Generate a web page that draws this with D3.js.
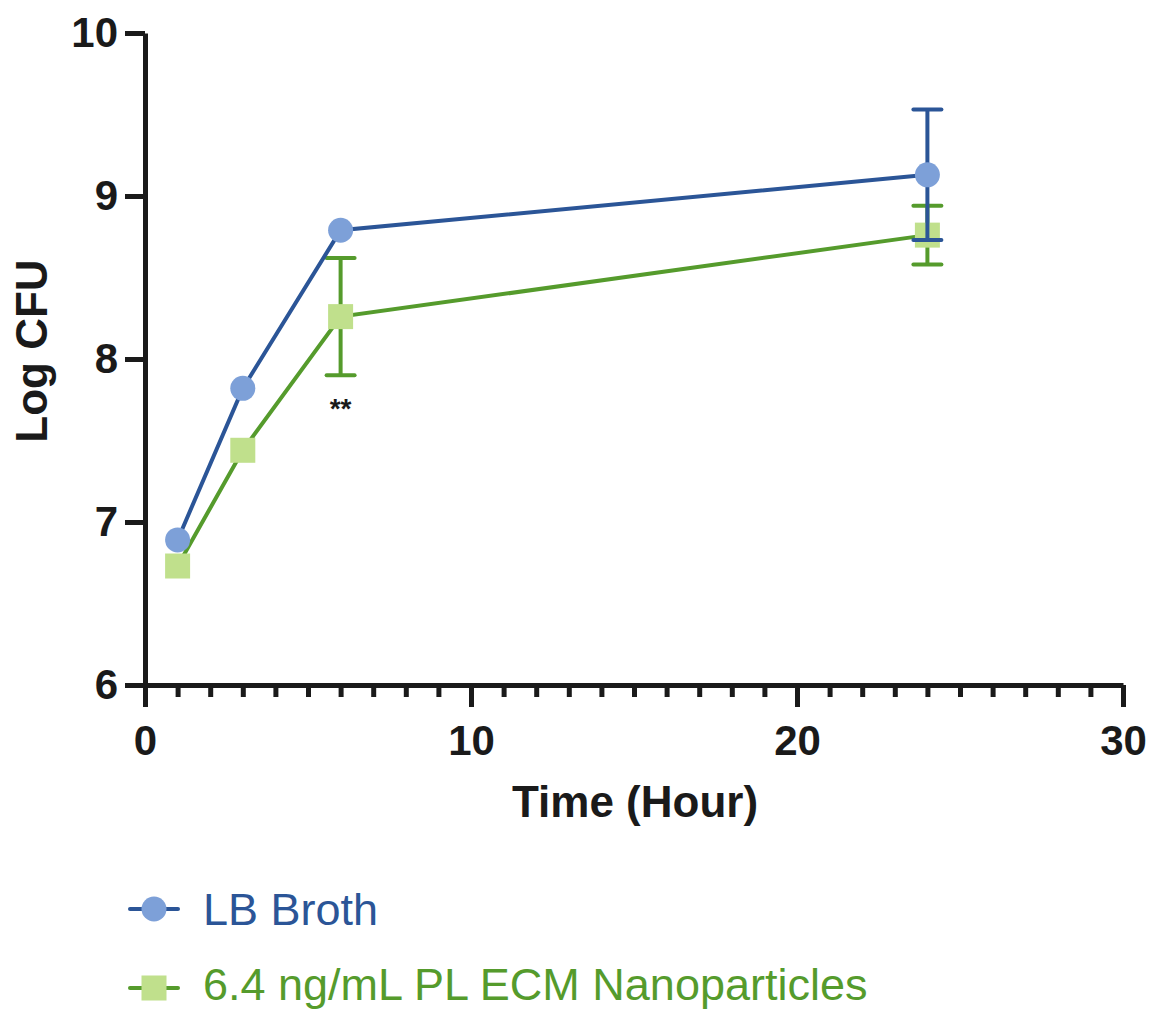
<!DOCTYPE html>
<html>
<head>
<meta charset="utf-8">
<title>Log CFU over time</title>
<style>
  body { margin: 0; background: white; }
  svg text { font-family: "Liberation Sans", Arial, Helvetica, sans-serif; }
  .axis path, .axis line { stroke: #1a1a1a; }
  .axis text { fill: #1a1a1a; font-weight: bold; font-size: 42px; }
</style>
</head>
<body>
<svg id="chart" width="1152" height="1011"></svg>
<script src="https://d3js.org/d3.v7.min.js"></script>
<script>
// data
var hours = [1, 3, 6, 24];
var lbBroth = [6.89, 7.82, 8.79, 9.13];
var lbBrothErr = [0, 0, 0, 0.40];
var nanoparticles = [6.73, 7.44, 8.26, 8.76];
var nanoparticlesErr = [0, 0, 0.36, 0.18];
var xTicks = [0, 10, 20, 30];
var yTicks = [6, 7, 8, 9, 10];
var annotX = 6, annotY = 7.64, annotText = "**";

var blueLine = "#2b5597", blueFill = "#7da0d8";
var greenLine = "#559b2c", greenFill = "#c0e08c";

var svg = d3.select("#chart");

var x = d3.scaleLinear().domain([0, 30]).range([145, 1123]);
var y = d3.scaleLinear().domain([6, 10]).range([685, 33]);

// axes
svg.append("g").attr("class", "axis").attr("transform", "translate(145,0)")
    .call(d3.axisLeft(y).tickValues(yTicks).tickFormat(d3.format("d"))
        .tickSize(20).tickSizeOuter(0).tickPadding(7));

var minor = d3.range(1, 30).filter(function(d) { return d % 10 != 0; });
svg.append("g").attr("class", "axis minor").attr("transform", "translate(0,685)")
    .call(d3.axisBottom(x).tickValues(minor).tickSize(12).tickFormat(""))
    .call(function(g) { g.select(".domain").remove(); });

svg.append("g").attr("class", "axis").attr("transform", "translate(0,685)")
    .call(d3.axisBottom(x).tickValues(xTicks).tickFormat(d3.format("d"))
        .tickSize(22).tickSizeOuter(0).tickPadding(18));

svg.selectAll(".axis path, .axis line").attr("stroke-width", 5);

// axis titles
svg.append("text").attr("x", 635).attr("y", 817).attr("text-anchor", "middle")
    .attr("font-size", 44).attr("font-weight", "bold").attr("fill", "#1a1a1a")
    .text("Time (Hour)");
svg.append("text").attr("transform", "translate(47,351) rotate(-90)").attr("text-anchor", "middle")
    .attr("font-size", 44).attr("font-weight", "bold").attr("fill", "#1a1a1a")
    .text("Log CFU");

function drawSeries(vals, errs, line, fill, shape) {
    var pts = hours.map(function(h, i) { return {x: h, y: vals[i], e: errs[i]}; });
    var g = svg.append("g");
    g.append("path").datum(pts)
        .attr("fill", "none").attr("stroke", line).attr("stroke-width", 4)
        .attr("d", d3.line().x(function(d) { return x(d.x); }).y(function(d) { return y(d.y); }));

    var eb = g.selectAll(".err").data(pts.filter(function(d) { return d.e > 0; })).enter().append("g");
    eb.append("line")
        .attr("x1", function(d) { return x(d.x); }).attr("x2", function(d) { return x(d.x); })
        .attr("y1", function(d) { return y(d.y - d.e); }).attr("y2", function(d) { return y(d.y + d.e); })
        .attr("stroke", line).attr("stroke-width", 4);
    [-1, 1].forEach(function(s) {
        eb.append("line")
            .attr("x1", function(d) { return x(d.x) - 14; }).attr("x2", function(d) { return x(d.x) + 14; })
            .attr("y1", function(d) { return y(d.y + s * d.e); }).attr("y2", function(d) { return y(d.y + s * d.e); })
            .attr("stroke", line).attr("stroke-width", 4).attr("stroke-linecap", "round");
    });

    if (shape == "circle") {
        g.selectAll(".pt").data(pts).enter().append("circle")
            .attr("cx", function(d) { return x(d.x); }).attr("cy", function(d) { return y(d.y); })
            .attr("r", 12.5).attr("fill", fill);
    } else {
        g.selectAll(".pt").data(pts).enter().append("rect")
            .attr("x", function(d) { return x(d.x) - 12.5; }).attr("y", function(d) { return y(d.y) - 12.5; })
            .attr("width", 25).attr("height", 25).attr("fill", fill);
    }
}

drawSeries(nanoparticles, nanoparticlesErr, greenLine, greenFill, "square");
drawSeries(lbBroth, lbBrothErr, blueLine, blueFill, "circle");

svg.append("text").attr("x", x(annotX)).attr("y", y(annotY)).attr("text-anchor", "middle")
    .attr("font-size", 28).attr("font-weight", "bold").attr("fill", "#1a1a1a")
    .text(annotText);

// legend
var legend = [
    {name: "LB Broth", line: blueLine, fill: blueFill, shape: "circle", y: 909, ty: 16},
    {name: "6.4 ng/mL PL ECM Nanoparticles", line: greenLine, fill: greenFill, shape: "square", y: 988, ty: 12}
];
legend.forEach(function(l) {
    var g = svg.append("g").attr("transform", "translate(154," + l.y + ")");
    g.append("line").attr("x1", -24).attr("x2", 24).attr("stroke", l.line).attr("stroke-width", 4).attr("stroke-linecap", "round");
    if (l.shape == "circle") g.append("circle").attr("r", 12.5).attr("fill", l.fill);
    else g.append("rect").attr("x", -12.5).attr("y", -12.5).attr("width", 25).attr("height", 25).attr("fill", l.fill);
    g.append("text").attr("x", 49).attr("y", l.ty).attr("font-size", 45).attr("fill", l.line).text(l.name);
});
</script>
</body>
</html>
